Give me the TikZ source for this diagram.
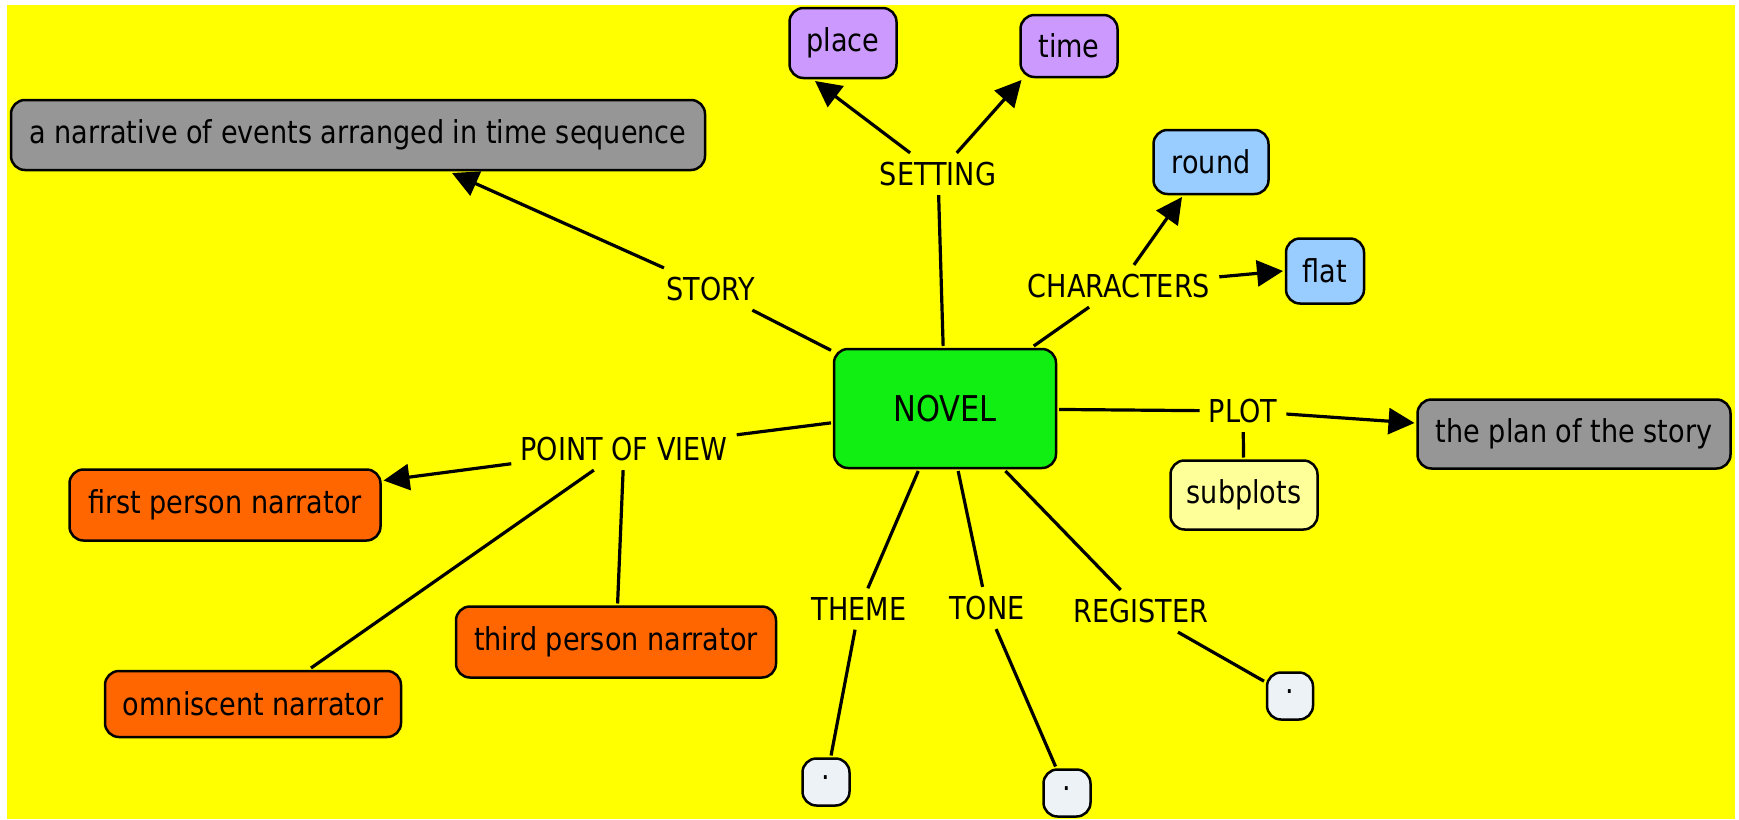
\documentclass[tikz,border=0pt]{standalone}
\usepackage{fontspec}
\setmainfont{DejaVu Sans}[FakeStretch=0.86]
\usetikzlibrary{arrows.meta}
\definecolor{bgyellow}{HTML}{FFFF00}
\definecolor{novelgreen}{HTML}{11EE11}
\definecolor{boxgray}{HTML}{969696}
\definecolor{boxpurple}{HTML}{CC99FF}
\definecolor{boxblue}{HTML}{99CCFF}
\definecolor{boxorange}{HTML}{FF6600}
\definecolor{boxpale}{HTML}{FFFF99}
\definecolor{boxdot}{HTML}{EDF2F7}
\begin{document}
\begin{tikzpicture}[x=1pt,y=-1pt,
  box/.style={draw=black, line width=2.5pt, rounded corners=14pt, align=center,
    inner sep=0pt, outer sep=3pt, font=\fontsize{31.5}{36}\selectfont, text=black},
  lbl/.style={inner sep=9pt, font=\fontsize{31.5}{36}\selectfont, text=black},
  conn/.style={line width=3.2pt, draw=black},
  arr/.style={line width=3.2pt, draw=black, -{Triangle[length=26pt,width=26pt]}}
]
\useasboundingbox (0,0) rectangle (1739,819);
\fill[white] (0,0) rectangle (1739,819);
\fill[bgyellow] (7,5) rectangle (1735,819);

% boxes
\node[box, fill=novelgreen, minimum width=222pt, minimum height=119pt,
  font=\fontsize{35.5}{40}\selectfont] (novel) at (945,408.5) {NOVEL};
\node[box, fill=boxgray, minimum width=694pt, minimum height=70pt] (narr) at (358,135) {a narrative of events arranged in time sequence};
\node[box, fill=boxpurple, minimum width=107pt, minimum height=70pt] (place) at (843,43) {place};
\node[box, fill=boxpurple, minimum width=97pt, minimum height=62pt] (time) at (1069,46) {time};
\node[box, fill=boxblue, minimum width=115pt, minimum height=64pt] (round) at (1211,162) {round};
\node[box, fill=boxblue, minimum width=78pt, minimum height=65pt] (flat) at (1325,271) {flat};
\node[box, fill=boxgray, minimum width=313pt, minimum height=69pt] (plan) at (1574,434) {the plan of the story};
\node[box, fill=boxpale, minimum width=147pt, minimum height=69pt] (subplots) at (1244,495) {subplots};
\node[box, fill=boxorange, minimum width=311pt, minimum height=71pt] (first) at (225,505) {first person narrator};
\node[box, fill=boxorange, minimum width=320pt, minimum height=71pt] (third) at (616,642) {third person narrator};
\node[box, fill=boxorange, minimum width=296pt, minimum height=66pt] (omni) at (253,704) {omniscent narrator};
\node[box, fill=boxdot, minimum width=47pt, minimum height=47pt] (dot1) at (826,782) {·};
\node[box, fill=boxdot, minimum width=47pt, minimum height=47pt] (dot2) at (1067,793) {·};
\node[box, fill=boxdot, minimum width=46pt, minimum height=47pt] (dot3) at (1290,696) {·};

% linking phrases
\node[lbl] (setting) at (938,174) {SETTING};
\node[lbl] (story) at (711,289) {STORY};
\node[lbl] (characters) at (1119,286) {CHARACTERS};
\node[lbl] (plot) at (1243,411) {PLOT};
\node[lbl] (pov) at (624,449) {POINT OF VIEW};
\node[lbl] (theme) at (859,609) {THEME};
\node[lbl] (tone) at (987,608) {TONE};
\node[lbl] (register) at (1141,611) {REGISTER};

% connectors
\draw[conn] (novel) -- (story);
\draw[arr] (story) -- ([xshift=94pt]narr.south);
\draw[conn] (novel) -- (setting);
\draw[arr] (setting) -- ([xshift=-28pt]place.south);
\draw[arr] (setting) -- ([xshift=4pt]time.south west);
\draw[conn] (novel) -- (characters);
\draw[arr] (characters) -- ([xshift=-29pt]round.south);
\draw[arr] (characters) -- (flat.west);
\draw[conn] (novel) -- (plot);
\draw[arr] (plot) -- (plan);
\draw[conn] (plot) -- (subplots);
\draw[conn] (novel) -- (pov);
\draw[arr] (pov) -- ([yshift=-14pt]first.north east);
\draw[conn] (pov) -- ([xshift=58pt]omni.north);
\draw[conn] (pov) -- (third);
\draw[conn] (novel) -- (theme);
\draw[conn] (theme) -- (dot1);
\draw[conn] (novel) -- (tone);
\draw[conn] (tone) -- (dot2);
\draw[conn] (novel) -- (register);
\draw[conn] (register) -- (dot3);
\end{tikzpicture}
\end{document}
